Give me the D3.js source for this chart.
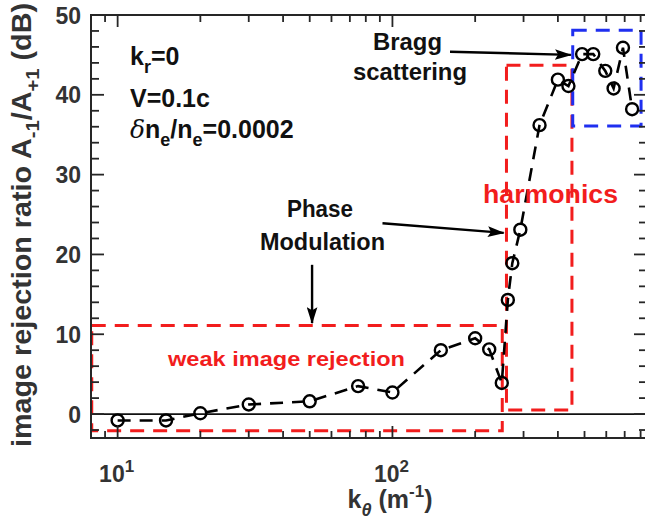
<!DOCTYPE html>
<html><head><meta charset="utf-8">
<script src="https://cdn.jsdelivr.net/npm/d3@7"></script>
<style>html,body{margin:0;padding:0;background:#fff;} svg{display:block;font-family:"Liberation Sans",Arial,sans-serif;font-weight:bold;}</style>
</head><body>
<svg id="c" width="645" height="521"></svg>
<script>
// data
const kTheta = [10, 15, 20, 30, 50, 75, 100, 150, 200, 225, 250, 263, 273, 292, 343, 400, 437, 490, 538, 595, 638, 690, 745];
const ratioDB = [-0.8, -0.8, 0.1, 1.2, 1.6, 3.5, 2.7, 8.0, 9.5, 8.1, 3.9, 14.3, 18.9, 23.1, 36.2, 41.9, 41.1, 45.1, 45.1, 43.0, 40.8, 45.9, 38.2];
const yTicks = [0, 10, 20, 30, 40, 50];
const xMajor = [10, 100];
const xMajorLabels = ["1", "2"]; // exponents
// region boxes [x0,x1,y0,y1] in data units
const weakBox = [8.05, 251, -2.1, 11.1];
const harmBox = [260, 450, 0.5, 43.7];
const braggBox = [453, 803, 36.1, 48.1];

const svg = d3.select("#c");
const x = d3.scaleLog().domain([8, 844]).range([91, 647]);
const y = d3.scaleLinear().domain([-3, 50]).range([438, 15]);
const axisCol = "#262626";

svg.append("defs").append("marker").attr("id","ah").attr("viewBox","0 0 16 10").attr("refX",15).attr("refY",5)
  .attr("markerUnits","userSpaceOnUse").attr("orient","auto")
  .attr("markerWidth",17).attr("markerHeight",11)
  .append("path").attr("d","M0,0 L16,5 L0,10 L3,5 Z").attr("fill","#000");

// zero line
svg.append("line").attr("x1",x(8)).attr("x2",x(844)).attr("y1",y(0)).attr("y2",y(0)).attr("stroke","#111").attr("stroke-width",1.8);

// boxes
function box(b, col){
  svg.append("rect").attr("x",x(b[0])).attr("y",y(b[3])).attr("width",x(b[1])-x(b[0])).attr("height",y(b[2])-y(b[3]))
    .attr("fill","none").attr("stroke",col).attr("stroke-width",3).attr("stroke-dasharray","14,9");
}
box(weakBox, "#f21d1d");
box(harmBox, "#f21d1d");
box(braggBox, "#1f2ff0");

// data line + markers
const line = d3.line().x(d=>x(d[0])).y(d=>y(d[1]));
const pts = kTheta.map((k,i)=>[k, ratioDB[i]]);
svg.append("path").datum(pts).attr("d",line).attr("fill","none").attr("stroke","#000").attr("stroke-width",2.6).attr("stroke-dasharray","13,9");
svg.selectAll("circle.m").data(pts).enter().append("circle").attr("class","m")
  .attr("cx",d=>x(d[0])).attr("cy",d=>y(d[1])).attr("r",6).attr("fill","none").attr("stroke","#000").attr("stroke-width",2.4);

// axes frame
const g = svg.append("g");
g.append("rect").attr("x",x(8)).attr("y",y(50)).attr("width",x(844)-x(8)).attr("height",y(-3)-y(50))
  .attr("fill","none").attr("stroke",axisCol).attr("stroke-width",2);

// y ticks
const yMinor = d3.range(-2, 51, 2);
yMinor.forEach(v=>{
  const L = (v%10===0)?13:8;
  g.append("line").attr("x1",x(8)).attr("x2",x(8)+L).attr("y1",y(v)).attr("y2",y(v)).attr("stroke",axisCol).attr("stroke-width",1.8);
  g.append("line").attr("x1",x(844)).attr("x2",x(844)-L).attr("y1",y(v)).attr("y2",y(v)).attr("stroke",axisCol).attr("stroke-width",1.8);
});
yTicks.forEach(v=>{
  g.append("text").attr("x",81).attr("y",y(v)+8.5).attr("text-anchor","end").attr("font-size",23).attr("fill","#333").text(v);
});
// x ticks
const xTickVals = [];
[1,10,100].forEach(dec=>{ for(let m=1;m<10;m++){ const v=m*dec; if(v>=8 && v<=844) xTickVals.push(v);} });
xTickVals.forEach(v=>{
  const L = (xMajor.includes(v))?12:7;
  g.append("line").attr("x1",x(v)).attr("x2",x(v)).attr("y1",y(-3)).attr("y2",y(-3)-L).attr("stroke",axisCol).attr("stroke-width",1.8);
  g.append("line").attr("x1",x(v)).attr("x2",x(v)).attr("y1",y(50)).attr("y2",y(50)+L).attr("stroke",axisCol).attr("stroke-width",1.8);
});
xMajor.forEach((v,i)=>{
  const t = g.append("text").attr("x",x(v)-1).attr("y",482).attr("text-anchor","middle").attr("font-size",23).attr("fill","#333");
  t.append("tspan").text("10");
  t.append("tspan").attr("dy",-10).attr("font-size",17).text(xMajorLabels[i]);
});

// axis titles
const xt = svg.append("text").attr("x",390).attr("y",508).attr("text-anchor","middle").attr("font-size",25).attr("fill","#333");
xt.append("tspan").text("k");
xt.append("tspan").attr("dy",8).attr("font-size",18).attr("font-style","italic").text("θ");
xt.append("tspan").attr("dy",-8).text(" (m");
xt.append("tspan").attr("dy",-11).attr("font-size",17).text("-1");
xt.append("tspan").attr("dy",11).text(")");

const yt = svg.append("text").attr("transform","translate(31,225) rotate(-90)").attr("text-anchor","middle").attr("font-size",27).attr("fill","#333")
  .attr("textLength",444).attr("lengthAdjust","spacingAndGlyphs");
yt.append("tspan").text("image rejection ratio A");
yt.append("tspan").attr("dy",8).attr("font-size",19).text("-1");
yt.append("tspan").attr("dy",-8).text("/A");
yt.append("tspan").attr("dy",8).attr("font-size",19).text("+1");
yt.append("tspan").attr("dy",-8).text(" (dB)");

// parameter text
const p1 = svg.append("text").attr("x",130).attr("y",65).attr("font-size",25).attr("fill","#111");
p1.append("tspan").text("k"); p1.append("tspan").attr("dy",8).attr("font-size",18).text("r"); p1.append("tspan").attr("dy",-8).text("=0");
svg.append("text").attr("x",130).attr("y",107).attr("font-size",25).attr("fill","#111").text("V=0.1c");
const p3 = svg.append("text").attr("x",130).attr("y",138).attr("font-size",25).attr("fill","#111");
p3.append("tspan").attr("font-style","italic").attr("font-weight","normal").attr("font-family","'DejaVu Serif',serif").text("δ");
p3.append("tspan").text("n"); p3.append("tspan").attr("dy",8).attr("font-size",18).text("e");
p3.append("tspan").attr("dy",-8).text("/n"); p3.append("tspan").attr("dy",8).attr("font-size",18).text("e");
p3.append("tspan").attr("dy",-8).text("=0.0002");

// annotations
function arrow(a,b){
  svg.append("line").attr("x1",x(a[0])).attr("y1",y(a[1])).attr("x2",x(b[0])).attr("y2",y(b[1]))
    .attr("stroke","#000").attr("stroke-width",2.4).attr("marker-end","url(#ah)");
}
function label(txt, x0, x1, base, fs, col){
  svg.append("text").attr("x",x0).attr("y",base).attr("font-size",fs).attr("fill",col)
    .attr("textLength",x1-x0).attr("lengthAdjust","spacingAndGlyphs").text(txt);
}
label("Bragg", 373, 442, 50, 23, "#111");
label("scattering", 353, 467, 80, 23, "#111");
arrow([162,45.4],[446,45.0]);
label("Phase", 287, 353, 217, 23, "#111");
label("Modulation", 260, 385, 250, 23, "#111");
arrow([92,23.9],[254,22.7]);
arrow([51,18.7],[51,11.4]);
label("harmonics", 483, 618, 203, 25, "#f21d1d");
label("weak image rejection", 168, 405, 366, 21, "#f21d1d");
</script>
</body></html>
